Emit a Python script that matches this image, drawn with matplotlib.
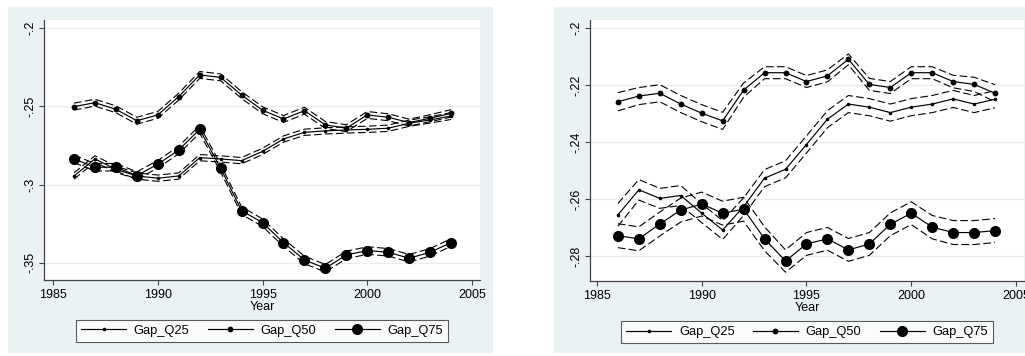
import matplotlib
matplotlib.use("Agg")
import matplotlib.pyplot as plt
from matplotlib.patches import Rectangle
from matplotlib.lines import Line2D

plt.rcParams["font.family"] = ["Liberation Sans", "DejaVu Sans"]
plt.rcParams["lines.scale_dashes"] = False

years = list(range(1986, 2005))

# ---- left panel ----
left_q25 = [-0.2945, -0.2836, -0.2902, -0.2945, -0.2959, -0.2945, -0.2828, -0.2836, -0.2847, -0.2788,
            -0.2709, -0.2666, -0.2657, -0.2651, -0.2647, -0.2640, -0.2608, -0.2587, -0.2562]
left_q50 = [-0.2502, -0.2477, -0.2519, -0.2592, -0.2555, -0.2438, -0.2300, -0.2315, -0.2428, -0.2525,
            -0.2581, -0.2528, -0.2619, -0.2640, -0.2555, -0.2570, -0.2604, -0.2576, -0.2545]
left_q75 = [-0.2836, -0.2889, -0.2889, -0.2942, -0.2870, -0.2779, -0.2647, -0.2895, -0.3166, -0.3243,
            -0.3370, -0.3481, -0.3534, -0.3449, -0.3421, -0.3432, -0.3470, -0.3432, -0.3370]
left_q25_hw = [0.0020, 0.0020, 0.0020, 0.0020, 0.0020, 0.0020, 0.0020, 0.0020, 0.0020, 0.0020,
               0.0020, 0.0020, 0.0020, 0.0020, 0.0020, 0.0020, 0.0020, 0.0020, 0.0022]
left_q50_hw = [0.0022, 0.0022, 0.0022, 0.0022, 0.0022, 0.0022, 0.0022, 0.0022, 0.0022, 0.0022,
               0.0022, 0.0022, 0.0022, 0.0022, 0.0022, 0.0022, 0.0022, 0.0022, 0.0024]
left_q75_hw = [0.0024, 0.0024, 0.0024, 0.0024, 0.0024, 0.0024, 0.0024, 0.0024, 0.0024, 0.0024,
               0.0024, 0.0024, 0.0024, 0.0024, 0.0024, 0.0024, 0.0024, 0.0024, 0.0024]

# ---- right panel ----
right_q25 = [-0.2656, -0.2568, -0.2598, -0.2588, -0.2650, -0.2709, -0.2627, -0.2527, -0.2496, -0.2409,
             -0.2320, -0.2267, -0.2278, -0.2297, -0.2278, -0.2267, -0.2249, -0.2267, -0.2250]
right_q50 = [-0.2259, -0.2239, -0.2229, -0.2267, -0.2299, -0.2326, -0.2218, -0.2157, -0.2157, -0.2188,
             -0.2168, -0.2110, -0.2198, -0.2209, -0.2157, -0.2157, -0.2188, -0.2198, -0.2229]
right_q75 = [-0.2729, -0.2740, -0.2688, -0.2639, -0.2618, -0.2650, -0.2636, -0.2740, -0.2818, -0.2758,
             -0.2740, -0.2779, -0.2758, -0.2689, -0.2650, -0.2699, -0.2718, -0.2718, -0.2711]
right_q25_hw = [0.0040, 0.0036, 0.0035, 0.0035, 0.0033, 0.0033, 0.0031, 0.0030, 0.0030, 0.0030,
                0.0030, 0.0030, 0.0030, 0.0030, 0.0030, 0.0030, 0.0030, 0.0030, 0.0030]
right_q50_hw = [0.0032, 0.0030, 0.0030, 0.0030, 0.0030, 0.0030, 0.0025, 0.0021, 0.0021, 0.0021,
                0.0021, 0.0019, 0.0021, 0.0021, 0.0021, 0.0021, 0.0022, 0.0025, 0.0030]
right_q75_hw = [0.0042, 0.0042, 0.0042, 0.0042, 0.0042, 0.0042, 0.0042, 0.0042, 0.0039, 0.0040,
                0.0040, 0.0040, 0.0040, 0.0040, 0.0040, 0.0041, 0.0042, 0.0042, 0.0042]

series_names = ["Gap_Q25", "Gap_Q50", "Gap_Q75"]
marker_sizes = [2.6, 4.2, 8.0]

x_ticks = [1985, 1990, 1995, 2000, 2005]
left_yticks = [-0.2, -0.25, -0.3, -0.35]
left_yticklabels = ["-.2", "-.25", "-.3", "-.35"]
right_yticks = [-0.2, -0.22, -0.24, -0.26, -0.28]
right_yticklabels = ["-.2", "-.22", "-.24", "-.26", "-.28"]

BG = "#EAF2F3"
W, H = 1025, 356
fig = plt.figure(figsize=(W / 100, H / 100), dpi=100, facecolor="white")


def make_axes(x0, x1, y0, y1):
    ax = fig.add_axes([x0 / W, 1 - y1 / H, (x1 - x0) / W, (y1 - y0) / H])
    ax.set_zorder(5)
    return ax


def draw_panel(ax, data, hws, ylim, yticks, yticklabels, xlim):
    ax.set_facecolor("white")
    for vals, hw, ms in zip(data, hws, marker_sizes):
        lo = [v - h for v, h in zip(vals, hw)]
        hi = [v + h for v, h in zip(vals, hw)]
        ax.plot(years, hi, color="black", lw=0.8, dashes=(5.5, 2.4), zorder=3)
        ax.plot(years, lo, color="black", lw=0.8, dashes=(5.5, 2.4), zorder=3)
        ax.plot(years, vals, color="black", lw=0.85, marker="o", ms=ms,
                markeredgewidth=0, zorder=4)
    ax.set_xlim(*xlim)
    ax.set_ylim(*ylim)
    ax.set_xticks(x_ticks)
    ax.set_xticklabels([str(t) for t in x_ticks])
    ax.set_yticks(yticks)
    ax.set_yticklabels(yticklabels, rotation=90, va="center")
    ax.grid(axis="y", color="#E6EEF0", lw=1.0, zorder=1)
    ax.grid(axis="x", visible=False)
    ax.set_axisbelow(True)
    for s in ["top", "right"]:
        ax.spines[s].set_visible(False)
    for s in ["left", "bottom"]:
        ax.spines[s].set_color("#444444")
        ax.spines[s].set_linewidth(0.9)
    ax.tick_params(axis="both", direction="out", length=3.5, width=0.8, color="#444444",
                   labelsize=9, labelcolor="black")
    ax.tick_params(axis="y", pad=2)
    ax.tick_params(axis="x", pad=3)
    ax.set_xlabel("Year", fontsize=9, labelpad=0)

    handles = [Line2D([0], [0], color="black", lw=0.85, marker="o", ms=ms, markeredgewidth=0)
               for ms in marker_sizes]
    leg = ax.legend(handles, series_names, loc="upper center", bbox_to_anchor=(0.5, -0.153),
                    ncol=3, frameon=True, fancybox=False, edgecolor="#333333",
                    fontsize=9.3, handlelength=3.5, handletextpad=0.6, columnspacing=1.4,
                    borderpad=0.4, borderaxespad=0, numpoints=1)
    leg.get_frame().set_linewidth(0.8)


# outer graph regions (drawn beneath the axes)
bgL = Rectangle((8 / W, 1 - 353 / H), (493 - 8) / W, (353 - 7) / H,
                transform=fig.transFigure, facecolor=BG, edgecolor="none", zorder=-10)
bgR = Rectangle((554 / W, 1 - 353 / H), (1040 - 554) / W, (353 - 7) / H,
                transform=fig.transFigure, facecolor=BG, edgecolor="none", zorder=-10)
fig.add_artist(bgL)
fig.add_artist(bgR)

axL = make_axes(44, 480, 20, 280)
draw_panel(axL, [left_q25, left_q50, left_q75], [left_q25_hw, left_q50_hw, left_q75_hw],
           (-0.3609, -0.1949), left_yticks, left_yticklabels, (1984.57, 2005.38))

axR = make_axes(590, 1024, 20, 281)
draw_panel(axR, [right_q25, right_q50, right_q75], [right_q25_hw, right_q50_hw, right_q75_hw],
           (-0.2888, -0.1972), right_yticks, right_yticklabels, (1984.67, 2005.38))

fig.savefig("out.png", dpi=100, facecolor="white")
